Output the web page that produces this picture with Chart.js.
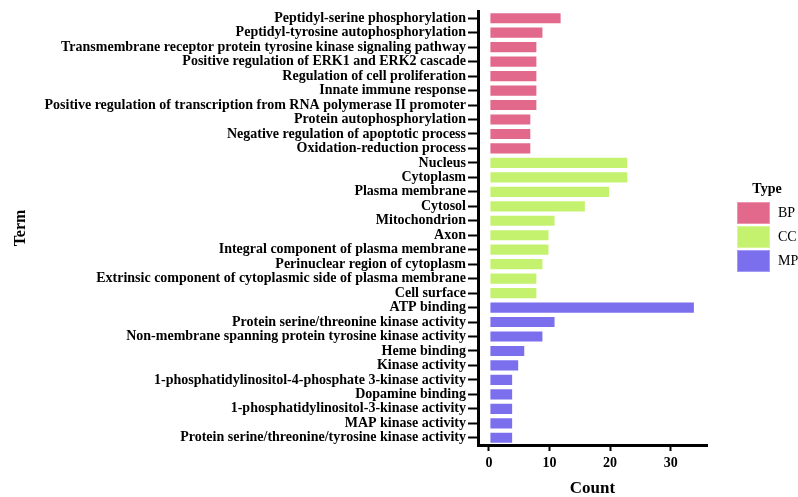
<!DOCTYPE html>
<html>
<head>
<meta charset="utf-8">
<script src="https://cdn.jsdelivr.net/npm/chart.js@4.4.1/dist/chart.umd.min.js"></script>
<style>
  html, body { margin: 0; padding: 0; background: #ffffff; }
  #wrap { width: 798px; height: 497px; }
</style>
</head>
<body>
<div id="wrap"><canvas id="chart" width="798" height="497"></canvas></div>
<script>
// GO enrichment terms and gene counts, grouped by ontology type
const bpTerms = [
  "Peptidyl-serine phosphorylation",
  "Peptidyl-tyrosine autophosphorylation",
  "Transmembrane receptor protein tyrosine kinase signaling pathway",
  "Positive regulation of ERK1 and ERK2 cascade",
  "Regulation of cell proliferation",
  "Innate immune response",
  "Positive regulation of transcription from RNA polymerase II promoter",
  "Protein autophosphorylation",
  "Negative regulation of apoptotic process",
  "Oxidation-reduction process"
];
const bpCounts = [12, 9, 8, 8, 8, 8, 8, 7, 7, 7];

const ccTerms = [
  "Nucleus",
  "Cytoplasm",
  "Plasma membrane",
  "Cytosol",
  "Mitochondrion",
  "Axon",
  "Integral component of plasma membrane",
  "Perinuclear region of cytoplasm",
  "Extrinsic component of cytoplasmic side of plasma membrane",
  "Cell surface"
];
const ccCounts = [23, 23, 20, 16, 11, 10, 10, 9, 8, 8];

const mpTerms = [
  "ATP binding",
  "Protein serine/threonine kinase activity",
  "Non-membrane spanning protein tyrosine kinase activity",
  "Heme binding",
  "Kinase activity",
  "1-phosphatidylinositol-4-phosphate 3-kinase activity",
  "Dopamine binding",
  "1-phosphatidylinositol-3-kinase activity",
  "MAP kinase activity",
  "Protein serine/threonine/tyrosine kinase activity"
];
const mpCounts = [34, 11, 9, 6, 5, 4, 4, 4, 4, 4];

const typeNames = ["BP", "CC", "MP"];
const xTickValues = [0, 10, 20, 30];

const typeColors = ["#E2698B", "#C4F26E", "#7C6FEE"];

// One dataset per type, padded with nulls so each term keeps its own row
const labels = bpTerms.concat(ccTerms, mpTerms);
const groups = [bpCounts, ccCounts, mpCounts];
let offset = 0;
const datasets = groups.map((vals, g) => {
  const data = labels.map(() => null);
  vals.forEach((v, i) => { data[offset + i] = v; });
  offset += vals.length;
  return {
    label: typeNames[g],
    data: data,
    backgroundColor: typeColors[g],
    borderColor: "rgba(255,255,255,0.3)",
    borderWidth: 1,
    borderSkipped: false,
    categoryPercentage: 1.0,
    barPercentage: 0.84
  };
});

const serif = "'Liberation Serif', 'Times New Roman', serif";

// Legend box drawn to the right of the plot
const typeLegend = {
  id: "typeLegend",
  afterDraw(chart, args, opts) {
    const ctx = chart.ctx;
    ctx.save();
    ctx.fillStyle = "#000";
    ctx.font = "bold 14px " + serif;
    ctx.textAlign = "center";
    ctx.textBaseline = "middle";
    ctx.fillText(opts.title, opts.x + 30, opts.y + 1);
    chart.data.datasets.forEach((ds, i) => {
      const by = opts.y + 14 + i * 24;
      ctx.fillStyle = ds.backgroundColor;
      ctx.fillRect(opts.x, by, 33, 22);
      ctx.strokeStyle = "rgba(255,255,255,0.3)";
      ctx.lineWidth = 1;
      ctx.strokeRect(opts.x + 0.5, by + 0.5, 32, 21);
      ctx.fillStyle = "#000";
      ctx.font = "14px " + serif;
      ctx.textAlign = "left";
      ctx.fillText(ds.label, opts.x + 41, by + 11);
    });
    ctx.restore();
  }
};

new Chart(document.getElementById("chart"), {
  type: "bar",
  data: { labels: labels, datasets: datasets },
  plugins: [typeLegend],
  options: {
    indexAxis: "y",
    responsive: false,
    animation: false,
    events: [],
    layout: { padding: { top: 11, right: 91, bottom: 0, left: 0 } },
    plugins: {
      legend: { display: false },
      tooltip: { enabled: false },
      typeLegend: { title: "Type", x: 737, y: 188 }
    },
    scales: {
      x: {
        type: "linear",
        stacked: true,
        min: -1.8,
        max: 36,
        afterBuildTicks(scale) {
          scale.ticks = xTickValues.map(v => ({ value: v }));
        },
        afterFit(scale) { scale.height = 52; },
        grid: {
          display: true,
          drawOnChartArea: false,
          drawTicks: true,
          tickLength: 6,
          tickWidth: 2,
          tickColor: "#000"
        },
        border: { display: true, color: "#000", width: 3 },
        ticks: {
          color: "#000",
          padding: 4,
          font: { family: serif, size: 14, weight: "bold" }
        },
        title: {
          display: true,
          text: "Count",
          color: "#000",
          padding: { top: -2, bottom: 0 },
          font: { family: serif, size: 17, weight: "bold", lineHeight: 1.0 }
        }
      },
      y: {
        type: "category",
        stacked: true,
        offset: true,
        afterFit(scale) { scale.width = 478; },
        grid: {
          display: true,
          drawOnChartArea: false,
          drawTicks: true,
          tickLength: 10,
          tickWidth: 2,
          tickColor: "#000",
          offset: false
        },
        border: { display: true, color: "#000", width: 3 },
        ticks: {
          color: "#000",
          padding: 2,
          autoSkip: false,
          font: { family: serif, size: 14, weight: "bold" }
        },
        title: {
          display: true,
          text: "Term",
          color: "#000",
          padding: { top: 13, bottom: 0 },
          font: { family: serif, size: 16, weight: "bold", lineHeight: 1.0 }
        }
      }
    }
  }
});
</script>
</body>
</html>
